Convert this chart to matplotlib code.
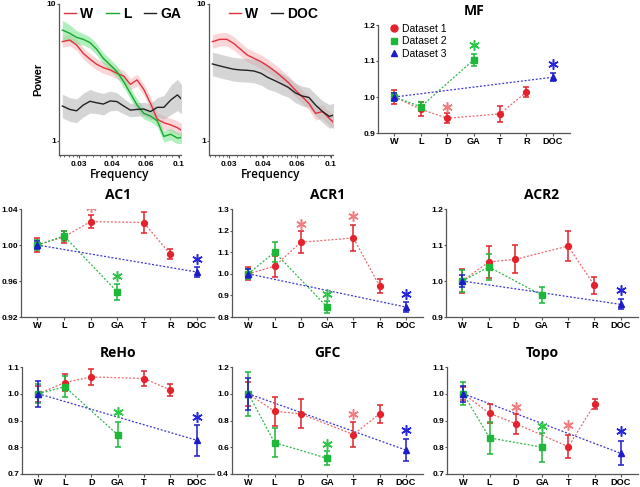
import numpy as np
import matplotlib
matplotlib.use("Agg")
import matplotlib.pyplot as plt
from matplotlib import ticker
from matplotlib.lines import Line2D

# ---------------- spectral panels ----------------
FREQ = [0.0263, 0.0284, 0.0305, 0.0327, 0.0351, 0.0376, 0.0403, 0.0433, 0.0464, 0.0498,
        0.0534, 0.0573, 0.0614, 0.0659, 0.0707, 0.0757, 0.0813, 0.0872, 0.0912]
FREQ_TICKS = [0.03125, 0.0442, 0.0625, 0.0884]
FREQ_LABELS = ['0.03', '0.04', '0.06', '0.1']

W1 = [5.31, 5.46, 5.02, 4.36, 3.95, 3.63, 3.43, 3.30, 3.12, 2.98,
      2.59, 2.79, 2.38, 1.88, 1.44, 1.36, 1.31, 1.25, 1.19]
L1 = [6.46, 6.11, 5.71, 5.52, 5.22, 4.67, 4.01, 3.59, 3.21, 2.71,
      2.23, 1.83, 1.59, 1.52, 1.40, 1.08, 1.12, 1.05, 1.06]
GA1 = [1.80, 1.70, 1.66, 1.83, 1.95, 1.90, 1.86, 1.96, 1.94, 1.80,
       1.68, 1.70, 1.71, 1.64, 1.76, 1.76, 1.99, 2.17, 2.01]
W1_BAND = [1.10, 1.10, 1.10, 1.10, 1.10, 1.10, 1.10, 1.10, 1.10, 1.10,
           1.10, 1.10, 1.10, 1.12, 1.12, 1.12, 1.12, 1.12, 1.12]
L1_BAND = [1.18, 1.15, 1.12, 1.10, 1.10, 1.10, 1.10, 1.10, 1.10, 1.10,
           1.10, 1.10, 1.10, 1.10, 1.10, 1.10, 1.10, 1.10, 1.10]
GA1_BAND = [1.22, 1.22, 1.22, 1.22, 1.22, 1.20, 1.20, 1.18, 1.16, 1.14,
            1.12, 1.12, 1.12, 1.14, 1.18, 1.22, 1.28, 1.30, 1.28]

W2 = [5.31, 5.52, 5.52, 5.16, 4.67, 4.24, 4.01, 3.79, 3.53, 3.24,
      2.95, 2.67, 2.36, 2.11, 1.88, 1.59, 1.64, 1.46, 1.36]
DOC2 = [3.65, 3.53, 3.43, 3.34, 3.30, 3.28, 3.24, 3.12, 2.91, 2.76,
        2.61, 2.46, 2.25, 2.13, 2.08, 1.83, 1.64, 1.51, 1.55]
W2_BAND = [1.12, 1.12, 1.12, 1.12, 1.12, 1.12, 1.12, 1.12, 1.12, 1.12,
           1.12, 1.12, 1.12, 1.12, 1.12, 1.12, 1.12, 1.12, 1.12]
DOC2_BAND = [1.22, 1.22, 1.22, 1.22, 1.22, 1.22, 1.22, 1.22, 1.22, 1.20,
             1.20, 1.18, 1.18, 1.18, 1.18, 1.20, 1.20, 1.22, 1.22]

# ---------------- condition panels ----------------
CATS = ['W', 'L', 'D', 'GA', 'T', 'R', 'DOC']
RED_CATS = ['W', 'L', 'D', 'T', 'R']
GREEN_CATS = ['W', 'L', 'GA']
BLUE_CATS = ['W', 'DOC']

MF_RED = [1.000, 0.966, 0.941, 0.953, 1.014]
MF_RED_ERR = [0.020, 0.020, 0.014, 0.023, 0.014]
MF_GREEN = [1.000, 0.973, 1.103]
MF_GREEN_ERR = [0.012, 0.012, 0.017]
MF_BLUE = [1.000, 1.055]
MF_BLUE_ERR = [0.012, 0.011]
MF_STARS = [('red', 'D', 0.972), ('green', 'GA', 1.144), ('blue', 'DOC', 1.092)]

AC1_RED = [1.000, 1.009, 1.026, 1.025, 0.990]
AC1_RED_ERR = [0.008, 0.007, 0.0074, 0.012, 0.0057]
AC1_GREEN = [1.000, 1.010, 0.948]
AC1_GREEN_ERR = [0.006, 0.006, 0.009]
AC1_BLUE = [1.000, 0.970]
AC1_BLUE_ERR = [0.004, 0.0055]
AC1_STARS = [('red', 'D', 1.042), ('green', 'GA', 0.966), ('blue', 'DOC', 0.984)]

ACR1_RED = [1.000, 1.035, 1.146, 1.166, 0.943]
ACR1_RED_ERR = [0.030, 0.048, 0.050, 0.062, 0.031]
ACR1_GREEN = [1.000, 1.100, 0.846]
ACR1_GREEN_ERR = [0.022, 0.046, 0.028]
ACR1_BLUE = [1.000, 0.846]
ACR1_BLUE_ERR = [0.020, 0.023]
ACR1_STARS = [('red', 'D', 1.231), ('red', 'T', 1.269), ('green', 'GA', 0.908), ('blue', 'DOC', 0.905)]

ACR2_RED = [1.000, 1.053, 1.060, 1.097, 0.988]
ACR2_RED_ERR = [0.033, 0.044, 0.039, 0.042, 0.024]
ACR2_GREEN = [1.000, 1.039, 0.961]
ACR2_GREEN_ERR = [0.030, 0.037, 0.022]
ACR2_BLUE = [1.000, 0.935]
ACR2_BLUE_ERR = [0.018, 0.014]
ACR2_STARS = [('blue', 'DOC', 0.975)]

REHO_RED = [1.000, 1.042, 1.063, 1.057, 1.014]
REHO_RED_ERR = [0.030, 0.030, 0.030, 0.028, 0.022]
REHO_GREEN = [1.000, 1.026, 0.847]
REHO_GREEN_ERR = [0.035, 0.040, 0.047]
REHO_BLUE = [1.000, 0.826]
REHO_BLUE_ERR = [0.048, 0.057]
REHO_STARS = [('green', 'GA', 0.931), ('blue', 'DOC', 0.913)]

GFC_RED = [1.000, 0.869, 0.850, 0.695, 0.850]
GFC_RED_ERR = [0.090, 0.107, 0.108, 0.092, 0.069]
GFC_GREEN = [1.000, 0.635, 0.517]
GFC_GREEN_ERR = [0.164, 0.110, 0.052]
GFC_BLUE = [1.000, 0.579]
GFC_BLUE_ERR = [0.118, 0.079]
GFC_STARS = [('red', 'T', 0.850), ('green', 'GA', 0.628), ('blue', 'DOC', 0.727)]

TOPO_RED = [1.000, 0.927, 0.888, 0.802, 0.961]
TOPO_RED_ERR = [0.025, 0.035, 0.037, 0.044, 0.018]
TOPO_GREEN = [1.000, 0.835, 0.800]
TOPO_GREEN_ERR = [0.043, 0.060, 0.055]
TOPO_BLUE = [1.000, 0.777]
TOPO_BLUE_ERR = [0.030, 0.045]
TOPO_STARS = [('red', 'D', 0.950), ('green', 'GA', 0.878), ('red', 'T', 0.884), ('blue', 'DOC', 0.860)]

LEGEND_LABELS = ['Dataset 1', 'Dataset 2', 'Dataset 3']

# styles
COL = {'red': '#e3222b', 'green': '#1db83a', 'blue': '#1c1ccc'}
LINE_COL = {'red': '#ec6a70', 'green': '#2fb848', 'blue': '#3a3ad0'}
STAR_COL = {'red': '#f27c80', 'green': '#2ec64a', 'blue': '#2626dd'}
MARK = {'red': 'o', 'green': 's', 'blue': '^'}
TICK_FONT = dict(family='Liberation Sans', weight='bold', size=6.0)
TITLE_FONT = dict(family='Open Sans', weight='bold', size=10)
AX_COL = '#555555'

W_PX, H_PX = 640, 487


def rect(l, t, r, b):
    return [l / W_PX, 1 - b / H_PX, (r - l) / W_PX, (b - t) / H_PX]


def style_axis(ax):
    for s in ['top', 'right']:
        ax.spines[s].set_visible(False)
    for s in ['left', 'bottom']:
        ax.spines[s].set_color(AX_COL)
        ax.spines[s].set_linewidth(0.9)
    ax.tick_params(colors=AX_COL, length=2, width=0.8, pad=1)
    ax.tick_params(axis='y', length=1.6, pad=0.6)
    for lab in ax.get_xticklabels() + ax.get_yticklabels():
        lab.set_fontproperties(TICK_FONT)
        lab.set_color('black')


def spectrum(ax, series, legend):
    for vals, band, col, bcol in series:
        v = np.array(vals)
        b = np.array(band)
        ax.fill_between(FREQ, v / b, v * b, color=bcol, lw=0, alpha=0.55)
        ax.plot(FREQ, v, color=col, lw=1.0)
    ax.set_xscale('log', base=2)
    ax.set_yscale('log')
    ax.set_xlim(0.0254, 0.0905)
    ax.set_ylim(0.79, 10)
    ax.set_xticks(FREQ_TICKS)
    ax.set_xticklabels(FREQ_LABELS)
    ax.xaxis.set_minor_locator(ticker.LogLocator(base=2, subs=np.arange(1.0, 2.0, 0.08)))
    ax.xaxis.set_minor_formatter(ticker.NullFormatter())
    ax.set_yticks([1, 10])
    ax.set_yticklabels(['1', '10'])
    ax.yaxis.set_minor_locator(ticker.NullLocator())
    style_axis(ax)
    ax.tick_params(axis='x', which='minor', length=1.2, width=0.6, colors=AX_COL)
    ax.tick_params(axis='x', which='major', pad=2.5)
    ax.set_xlabel('Frequency', family='Open Sans', weight='semibold', size=8.5, labelpad=0)
    handles = [Line2D([], [], color=s[2], lw=1.0) for s in series]
    ax.legend(handles, legend, loc='upper center', ncol=len(legend), frameon=False,
              prop=dict(family='Liberation Sans', weight='bold', size=10),
              handlelength=0.9, handletextpad=0.3, columnspacing=0.9,
              bbox_to_anchor=(0.52, 1.015), borderaxespad=0)


def condition(ax, title, red, red_err, green, green_err, blue, blue_err, stars, ylim, yticks, fmt):
    sets = [('red', RED_CATS, red, red_err), ('green', GREEN_CATS, green, green_err),
            ('blue', BLUE_CATS, blue, blue_err)]
    for key, cats, vals, errs in sets:
        x = [CATS.index(c) for c in cats]
        ax.plot(x, vals, ls=(0, (1.6, 1.4)), lw=0.9, color=LINE_COL[key], zorder=2)
        ax.errorbar(x, vals, yerr=errs, fmt=MARK[key], color=COL[key], ms=4.2,
                    mec=COL[key], elinewidth=1.1, capsize=2.3, capthick=1.1, zorder=3)
    for key, cat, yv in stars:
        ax.plot(CATS.index(cat), yv, marker=(6, 2, 0), ms=7.5, mew=1.1,
                color=STAR_COL[key], zorder=4)
    ax.set_xlim(-0.62, 6.65)
    ax.set_ylim(*ylim)
    ax.set_xticks(range(len(CATS)))
    ax.set_xticklabels(CATS)
    ax.set_yticks(yticks)
    ax.yaxis.set_major_formatter(ticker.FormatStrFormatter(fmt))
    style_axis(ax)
    for lab in ax.get_xticklabels():
        lab.set_fontproperties(dict(family='Liberation Sans', weight='bold', size=6.6))
    ax.tick_params(axis='x', pad=0.8)
    ax.set_title(title, fontdict=TITLE_FONT, pad=7)


fig = plt.figure(figsize=(6.4, 4.87), dpi=100)

ax1 = fig.add_axes(rect(59, 4, 181, 155))
spectrum(ax1, [(W1, W1_BAND, '#e0323c', '#f6b5b8'),
               (L1, L1_BAND, '#17a82b', '#72e489'),
               (GA1, GA1_BAND, '#222222', '#b4b4b4')], ['W', 'L', 'GA'])
ax1.set_ylabel('Power', family='Liberation Sans', weight='bold', size=8, labelpad=2)

ax2 = fig.add_axes(rect(209, 4, 333, 155))
spectrum(ax2, [(W2, W2_BAND, '#e0323c', '#f6b5b8'),
               (DOC2, DOC2_BAND, '#222222', '#b4b4b4')], ['W', 'DOC'])

ax3 = fig.add_axes(rect(378, 25, 570, 133))
condition(ax3, 'MF', MF_RED, MF_RED_ERR, MF_GREEN, MF_GREEN_ERR, MF_BLUE, MF_BLUE_ERR,
          MF_STARS, (0.9, 1.2), [0.9, 1.0, 1.1, 1.2], '%.1f')
leg_handles = [Line2D([], [], ls='none', marker=MARK[k], color=COL[k], ms=5) for k in ['red', 'green', 'blue']]
ax3.legend(leg_handles, LEGEND_LABELS, loc='upper left', bbox_to_anchor=(0.04, 1.05),
           frameon=False, prop=dict(family='Liberation Sans', size=7.5),
           handlelength=0.8, handletextpad=0.4, labelspacing=0.25, borderaxespad=0)

ax = fig.add_axes(rect(21, 209, 214, 317))
condition(ax, 'AC1', AC1_RED, AC1_RED_ERR, AC1_GREEN, AC1_GREEN_ERR, AC1_BLUE, AC1_BLUE_ERR,
          AC1_STARS, (0.92, 1.04), [0.92, 0.96, 1.00, 1.04], '%.2f')
ax = fig.add_axes(rect(232, 209, 423, 317))
condition(ax, 'ACR1', ACR1_RED, ACR1_RED_ERR, ACR1_GREEN, ACR1_GREEN_ERR, ACR1_BLUE, ACR1_BLUE_ERR,
          ACR1_STARS, (0.8, 1.3), [0.8, 0.9, 1.0, 1.1, 1.2, 1.3], '%.1f')
ax = fig.add_axes(rect(446, 209, 638, 317))
condition(ax, 'ACR2', ACR2_RED, ACR2_RED_ERR, ACR2_GREEN, ACR2_GREEN_ERR, ACR2_BLUE, ACR2_BLUE_ERR,
          ACR2_STARS, (0.9, 1.2), [0.9, 1.0, 1.1, 1.2], '%.1f')

ax = fig.add_axes(rect(22, 367, 214, 474))
condition(ax, 'ReHo', REHO_RED, REHO_RED_ERR, REHO_GREEN, REHO_GREEN_ERR, REHO_BLUE, REHO_BLUE_ERR,
          REHO_STARS, (0.7, 1.1), [0.7, 0.8, 0.9, 1.0, 1.1], '%.1f')
ax = fig.add_axes(rect(232, 367, 423, 474))
condition(ax, 'GFC', GFC_RED, GFC_RED_ERR, GFC_GREEN, GFC_GREEN_ERR, GFC_BLUE, GFC_BLUE_ERR,
          GFC_STARS, (0.4, 1.2), [0.4, 0.6, 0.8, 1.0, 1.2], '%.1f')
ax = fig.add_axes(rect(447, 367, 638, 474))
condition(ax, 'Topo', TOPO_RED, TOPO_RED_ERR, TOPO_GREEN, TOPO_GREEN_ERR, TOPO_BLUE, TOPO_BLUE_ERR,
          TOPO_STARS, (0.7, 1.1), [0.7, 0.8, 0.9, 1.0, 1.1], '%.1f')

fig.savefig('out.png', dpi=100)
